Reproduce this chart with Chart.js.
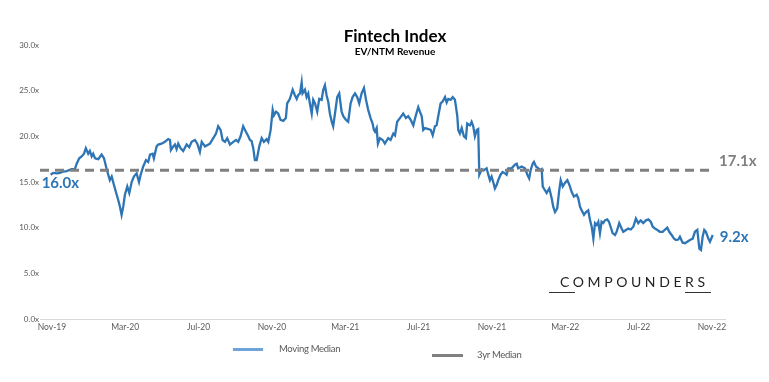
<!DOCTYPE html>
<html>
<head>
<meta charset="utf-8">
<script src="https://cdn.jsdelivr.net/npm/chart.js@4"></script>
<style>
  body { margin: 0; background: #fff; font-family: Lato, 'Open Sans', sans-serif; }
  #wrap { position: relative; width: 769px; height: 382px; }
  #chart { position: absolute; left: 0; top: 0; }
  .title { position: absolute; left: 395px; transform: translateX(-50%); font-weight: bold; color: #000; white-space: nowrap; }
  #title { top: 27px; font-size: 17px; line-height: 18px; }
  #subtitle { top: 45px; font-size: 10px; line-height: 12px; }
  .leg { position: absolute; font-size: 9.5px; letter-spacing: -0.3px; color: #595959; line-height: 12px; white-space: nowrap; }
  .sw { position: absolute; height: 3px; }
  #brand { position: absolute; left: 560px; top: 274px; font-size: 14px; letter-spacing: 3.6px; color: #222; line-height: 16px; }
  .rule { position: absolute; height: 1px; background: #333; top: 292px; }
</style>
</head>
<body>
<div id="wrap">
  <canvas id="chart" width="769" height="382"></canvas>
  <div class="title" id="title">Fintech Index</div>
  <div class="title" id="subtitle">EV/NTM Revenue</div>
  <div class="sw" style="left:233px; top:348px; width:30px; background:#6fa3dc;"></div>
  <div class="leg" style="left:279px; top:343px;">Moving Median</div>
  <div class="sw" style="left:432px; top:354px; width:31px; background:#808080;"></div>
  <div class="leg" style="left:477px; top:349px;">3yr Median</div>
  <div id="brand">COMPOUNDERS</div>
  <div class="rule" style="left:549px; width:26px;"></div>
  <div class="rule" style="left:685px; width:26px;"></div>
</div>
<script>
// months after Nov-19, and EV/NTM revenue multiple
const months = [
  -0.07, 0.07, 0.26, 0.44, 0.62, 0.80, 1.07, 1.25,
  1.35, 1.49, 1.62, 1.75, 1.85, 1.98, 2.07, 2.17,
  2.25, 2.35, 2.53, 2.71, 2.84, 2.95, 3.07, 3.16,
  3.26, 3.38, 3.49, 3.62, 3.71, 3.80, 3.89, 3.98,
  4.11, 4.22, 4.35, 4.47, 4.62, 4.75, 4.84, 4.98,
  5.13, 5.25, 5.35, 5.49, 5.56, 5.71, 5.80, 5.98,
  6.16, 6.34, 6.44, 6.49, 6.62, 6.71, 6.80, 6.89,
  7.02, 7.16, 7.35, 7.49, 7.62, 7.80, 7.93, 8.07,
  8.17, 8.35, 8.62, 8.80, 8.95, 9.07, 9.20, 9.31,
  9.44, 9.56, 9.71, 9.89, 10.04, 10.16, 10.29, 10.43,
  10.58, 10.71, 10.80, 10.89, 10.98, 11.07, 11.17, 11.31,
  11.44, 11.56, 11.71, 11.80, 11.93, 12.04, 12.11, 12.22,
  12.34, 12.47, 12.62, 12.76, 12.83, 12.98, 13.13, 13.25,
  13.35, 13.43, 13.53, 13.62, 13.67, 13.80, 13.89, 13.98,
  14.07, 14.17, 14.25, 14.35, 14.47, 14.58, 14.71, 14.80,
  14.89, 14.98, 15.07, 15.16, 15.26, 15.34, 15.44, 15.56,
  15.67, 15.80, 15.89, 16.04, 16.16, 16.29, 16.40, 16.53,
  16.65, 16.76, 16.89, 17.02, 17.13, 17.25, 17.38, 17.49,
  17.56, 17.62, 17.71, 17.78, 17.89, 18.04, 18.16, 18.34,
  18.47, 18.62, 18.71, 18.83, 18.98, 19.16, 19.31, 19.43,
  19.57, 19.71, 19.85, 19.98, 20.07, 20.17, 20.25, 20.35,
  20.53, 20.66, 20.77, 20.89, 20.98, 21.07, 21.20, 21.31,
  21.44, 21.53, 21.62, 21.75, 21.86, 21.98, 22.04, 22.11,
  22.16, 22.25, 22.35, 22.47, 22.58, 22.65, 22.80, 22.89,
  22.98, 23.07, 23.17, 23.25, 23.31, 23.44, 23.56, 23.71,
  23.80, 23.89, 23.98, 24.07, 24.16, 24.26, 24.34, 24.47,
  24.58, 24.71, 24.80, 24.89, 25.07, 25.25, 25.35, 25.43,
  25.62, 25.80, 25.93, 26.03, 26.11, 26.22, 26.29, 26.40,
  26.53, 26.62, 26.71, 26.77, 26.89, 26.98, 27.13, 27.26,
  27.34, 27.44, 27.56, 27.67, 27.75, 27.86, 27.98, 28.11,
  28.22, 28.35, 28.47, 28.62, 28.71, 28.80, 28.89, 29.02,
  29.13, 29.25, 29.35, 29.44, 29.53, 29.62, 29.71, 29.80,
  29.89, 29.98, 30.07, 30.16, 30.29, 30.38, 30.47, 30.58,
  30.71, 30.80, 30.94, 31.07, 31.16, 31.31, 31.43, 31.57,
  31.71, 31.85, 31.98, 32.11, 32.25, 32.40, 32.53, 32.66,
  32.77, 32.89, 33.02, 33.16, 33.31, 33.44, 33.56, 33.67,
  33.80, 33.93, 34.04, 34.16, 34.25, 34.40, 34.53, 34.65,
  34.80, 34.95, 35.07, 35.20, 35.31, 35.40, 35.49, 35.58,
  35.67, 35.80, 35.89, 36.04
];
const multiples = [
  15.8, 16.0, 15.95, 16.0, 16.15, 16.2, 16.4, 16.4,
  17.0, 17.6, 17.8, 18.1, 18.7, 18.1, 18.4, 17.8,
  18.1, 17.6, 17.5, 18.0, 17.6, 16.7, 15.8, 15.2,
  15.6, 14.7, 13.9, 13.0, 12.3, 11.4, 12.3, 13.6,
  14.5, 13.8, 15.0, 15.6, 15.95, 15.0, 15.8, 16.7,
  17.4, 17.2, 18.0, 18.1, 17.6, 18.9, 19.1, 19.2,
  19.4, 19.7, 19.6, 18.5, 18.9, 19.1, 18.6, 19.2,
  18.7, 18.4, 19.1, 18.8, 19.4, 19.6, 19.2, 18.3,
  19.4, 18.9, 19.2, 19.8, 20.3, 21.1, 20.7, 19.6,
  19.4, 19.8, 19.1, 19.4, 19.6, 19.4, 20.0, 21.1,
  20.5, 20.0, 19.6, 19.5, 18.7, 17.4, 17.4, 18.9,
  19.8, 19.4, 19.7, 19.4, 20.7, 22.9, 22.3, 22.7,
  22.5, 21.8, 21.7, 22.0, 23.6, 24.1, 25.1, 24.5,
  24.1, 24.5, 24.7, 25.9, 24.7, 25.1, 24.3, 24.7,
  23.6, 22.5, 24.0, 23.6, 22.7, 24.1, 24.0, 25.1,
  25.6, 24.5, 23.8, 22.5, 21.6, 21.1, 22.5, 24.3,
  24.7, 22.7, 22.2, 21.8, 21.6, 23.6, 24.3, 24.7,
  24.3, 23.6, 24.7, 25.3, 24.0, 22.9, 22.0, 21.4,
  20.7, 20.5, 20.9, 19.2, 19.8, 19.6, 19.2, 19.8,
  19.6, 20.3, 20.1, 21.6, 22.0, 22.5, 22.0, 22.2,
  21.8, 21.2, 22.3, 23.2, 22.7, 22.2, 20.7, 20.9,
  20.8, 20.7, 20.1, 21.1, 21.2, 22.2, 23.6, 23.8,
  24.3, 23.7, 24.1, 24.0, 24.3, 24.0, 23.2, 22.2,
  20.7, 20.3, 20.9, 20.0, 19.8, 21.4, 21.2, 21.6,
  21.1, 20.0, 20.7, 20.8, 15.8, 16.4, 16.3, 16.5,
  15.8, 15.2, 15.6, 15.0, 14.3, 14.7, 15.2, 15.8,
  16.1, 15.95, 15.8, 16.5, 16.5, 16.9, 17.0, 16.5,
  16.7, 16.5, 15.8, 15.4, 16.3, 17.0, 17.2, 16.7,
  16.5, 16.3, 16.4, 14.5, 14.1, 13.8, 14.3, 13.2,
  12.3, 11.7, 12.1, 14.1, 15.2, 14.5, 14.9, 15.2,
  14.7, 13.9, 13.4, 13.6, 13.2, 12.3, 11.9, 11.4,
  11.7, 11.9, 10.8, 10.1, 8.8, 10.5, 10.3, 10.65,
  9.4, 10.65, 10.5, 10.8, 10.9, 10.65, 10.1, 9.4,
  9.2, 9.55, 10.5, 9.9, 9.55, 9.75, 9.9, 9.8,
  10.1, 11.0, 10.5, 10.8, 10.5, 10.8, 10.9, 10.65,
  10.1, 9.9, 9.75, 9.55, 9.55, 9.8, 10.0, 9.55,
  9.2, 8.8, 8.65, 8.7, 9.0, 8.35, 8.3, 8.45,
  8.65, 8.8, 9.55, 9.75, 7.7, 7.55, 9.0, 9.75,
  9.55, 8.8, 8.45, 9.2
];

// 3yr median reference line
const medianLevel = 16.3;
const medianSpan = [-0.65, 36.0];

const tickMonths = [0, 4, 8, 12, 16, 20, 24, 28, 32, 36];
const tickLabels = ['Nov-19', 'Mar-20', 'Jul-20', 'Nov-20', 'Mar-21', 'Jul-21', 'Nov-21', 'Mar-22', 'Jul-22', 'Nov-22'];

const startLabel = '16.0x';
const medianLabel = '17.1x';
const endLabel = '9.2x';

const BLUE = '#2e75b6';
const GREY = '#808080';

const endLabels = {
  id: 'endLabels',
  afterDatasetsDraw(chart) {
    const { ctx, scales: { x, y } } = chart;
    const n = months.length;
    ctx.save();
    ctx.font = 'bold 15px Lato';
    ctx.textBaseline = 'middle';
    ctx.textAlign = 'left';
    ctx.fillStyle = BLUE;
    ctx.fillText(startLabel, x.getPixelForValue(months[0]) - 9, y.getPixelForValue(multiples[0]) + 8);
    ctx.fillText(endLabel, x.getPixelForValue(months[n - 1]) + 7, y.getPixelForValue(multiples[n - 1]) + 2);
    ctx.fillStyle = GREY;
    ctx.fillText(medianLabel, x.getPixelForValue(medianSpan[1]) + 7, y.getPixelForValue(medianLevel) - 9);
    ctx.restore();
  }
};

new Chart(document.getElementById('chart'), {
  type: 'line',
  data: {
    datasets: [
      {
        label: 'Moving Median',
        data: months.map((m, i) => ({ x: m, y: multiples[i] })),
        borderColor: BLUE,
        borderWidth: 2.3,
        pointRadius: 0,
        tension: 0,
        order: 1
      },
      {
        label: '3yr Median',
        data: medianSpan.map(m => ({ x: m, y: medianLevel })),
        borderColor: GREY,
        borderWidth: 3,
        borderDash: [9, 6],
        pointRadius: 0,
        order: 0
      }
    ]
  },
  options: {
    responsive: false,
    animation: false,
    devicePixelRatio: 1,
    layout: { padding: { left: 0, right: 44, top: 45, bottom: 43 } },
    plugins: {
      legend: { display: false },
      tooltip: { enabled: false }
    },
    scales: {
      x: {
        type: 'linear',
        min: -0.65,
        max: 36.71,
        afterFit: s => { s.height = 20; },
        afterBuildTicks: s => { s.ticks = tickMonths.map(v => ({ value: v })); },
        grid: { display: false, drawTicks: false },
        border: { display: true, color: '#d9d9d9', width: 1 },
        ticks: {
          padding: 3,
          autoSkip: false,
          maxRotation: 0,
          color: '#595959',
          font: { family: 'Lato', size: 8.5 },
          callback: v => tickLabels[tickMonths.indexOf(v)]
        }
      },
      y: {
        min: 0,
        max: 30,
        afterFit: s => { s.width = 40; },
        grid: { display: false, drawTicks: false },
        border: { display: false },
        ticks: {
          stepSize: 5,
          padding: 1,
          color: '#595959',
          font: { family: 'Lato', size: 8 },
          callback: v => v.toFixed(1) + 'x'
        }
      }
    }
  },
  plugins: [endLabels]
});
</script>
</body>
</html>
